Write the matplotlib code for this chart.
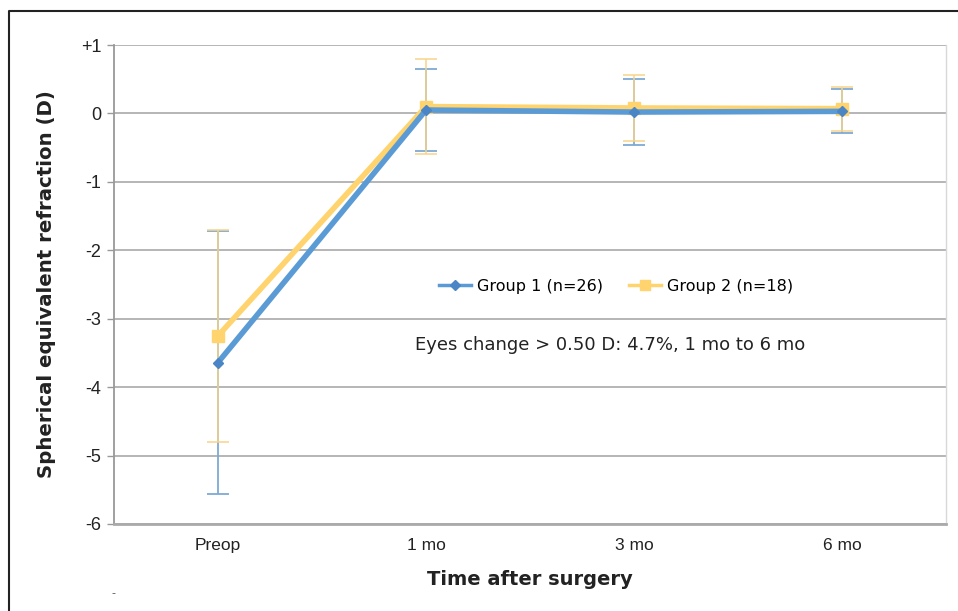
import matplotlib
matplotlib.use("Agg")
import matplotlib.pyplot as plt
from matplotlib.lines import Line2D
import numpy as np

# Follow-up visits and mean spherical equivalent (D) with SD
visits = ["Preop", "1 mo", "3 mo", "6 mo"]
group1_mean = [-3.64, 0.05, 0.02, 0.03]
group1_sd = [1.92, 0.60, 0.48, 0.32]
group2_mean = [-3.25, 0.10, 0.08, 0.07]
group2_sd = [1.55, 0.70, 0.48, 0.32]
y_ticks = [1, 0, -1, -2, -3, -4, -5, -6]
y_tick_labels = ["+1", "0", "-1", "-2", "-3", "-4", "-5", "-6"]

blue = "#5B9BD5"
yellow = "#FFD36E"
blue_err = "#7EA9D4"
yellow_err = "#F7D58A"

fig = plt.figure(figsize=(9.58, 6.11), dpi=100)
ax = fig.add_axes([114 / 958, 1 - 524 / 611, (946 - 114) / 958, (524 - 45) / 611])

x = np.arange(len(visits)) + 0.5

# error bars first, then lines on top
ax.errorbar(x, group1_mean, yerr=group1_sd, fmt="none", ecolor=blue_err,
            elinewidth=1.3, capsize=8, capthick=1.3, zorder=3)
ax.errorbar(x, group2_mean, yerr=group2_sd, fmt="none", ecolor=yellow_err,
            elinewidth=1.3, capsize=8, capthick=1.3, zorder=3, alpha=0.85)

ax.plot(x, group2_mean, color=yellow, lw=4, marker="s", ms=9,
        mec=yellow, mfc=yellow, zorder=4, solid_capstyle="butt")
ax.plot(x, group1_mean, color=blue, lw=4, marker="D", ms=5,
        mec="#4A86C5", mfc="#4A86C5", zorder=5, solid_capstyle="butt")

ax.set_xlim(0, len(visits))
ax.set_ylim(-6, 1)
ax.set_xticks(x)
ax.set_xticklabels(visits, family="Liberation Sans", fontsize=12.5, color="#222222")
ax.set_yticks(y_ticks)
ax.set_yticklabels(y_tick_labels, family="Liberation Sans", fontsize=13, color="#222222")
ax.tick_params(axis="x", length=0, pad=10)
ax.tick_params(axis="y", length=5, width=1, color="#999999", pad=4)

ax.grid(axis="y", color="#B0B0B0", lw=1.3, zorder=0)
ax.set_axisbelow(True)
ax.spines["top"].set_visible(False)
ax.spines["left"].set_color("#999999")
ax.spines["left"].set_linewidth(1.3)
ax.spines["bottom"].set_color("#AAAAAA")
ax.spines["bottom"].set_linewidth(2)
ax.spines["right"].set_color("#D8D8D8")
ax.spines["right"].set_linewidth(1)

ax.set_xlabel("Time after surgery", family="DejaVu Sans", fontweight="bold",
              fontsize=14, color="#222222", labelpad=12)
ax.set_ylabel("Spherical equivalent refraction (D)", family="DejaVu Sans",
              fontweight="bold", fontsize=14.2, color="#222222", labelpad=18)

handles = [
    Line2D([], [], color=blue, lw=2.5, marker="D", ms=5, mfc="#4A86C5", mec="#4A86C5"),
    Line2D([], [], color=yellow, lw=2.5, marker="s", ms=7, mfc=yellow, mec=yellow),
]
ax.legend(handles, ["Group 1 (n=26)", "Group 2 (n=18)"], loc="center",
          bbox_to_anchor=((616 - 114) / 832, 1 - (286 - 45) / 479), ncol=2,
          frameon=False, prop={"family": "DejaVu Sans", "size": 11.5},
          handlelength=2.0, columnspacing=1.6, handletextpad=0.4)

ax.text((415 - 114) / 832, 1 - (345 - 45) / 479,
        "Eyes change > 0.50 D: 4.7%, 1 mo to 6 mo",
        transform=ax.transAxes, family="DejaVu Sans", fontsize=13,
        color="#222222", va="center", ha="left")

# outer frame (top and left edges)
fig.add_artist(Line2D([9 / 958, 9 / 958, 1.0], [0.0, 1 - 11 / 611, 1 - 11 / 611],
                      transform=fig.transFigure, color="#222222", lw=1.5))
fig.text(113 / 958, 1 - 593 / 611, "-", fontsize=8, color="#555555",
         ha="center", va="center")

fig.savefig("out.png", dpi=100)
